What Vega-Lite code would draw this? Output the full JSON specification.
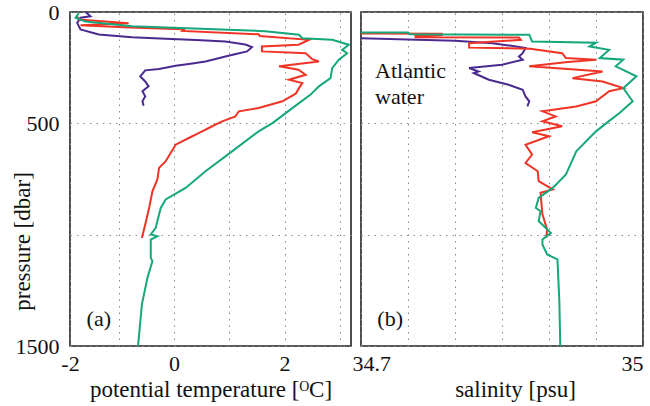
{
  "$schema": "https://vega.github.io/schema/vega-lite/v6.json",
  "background": "white",
  "padding": {"left": 10, "top": 0, "right": 0, "bottom": 0},
  "spacing": 10,
  "bounds": "flush",
  "config": {
    "view": {"stroke": "#222", "strokeWidth": 1.6},
    "font": "Liberation Serif",
    "axis": {
      "labelFont": "Liberation Serif", "titleFont": "Liberation Serif",
      "labelFontSize": 22, "titleFontSize": 23,
      "labelColor": "#111", "titleColor": "#111", "titleFontWeight": "normal",
      "gridColor": "#8a8a8a", "gridDash": [1.5, 5], "gridWidth": 1,
      "domain": false, "ticks": false
    }
  },
  "datasets": {
    "temp": [
      {"i":1,"cast":"p","t":-1.6,"p":0},{"i":2,"cast":"p","t":-1.51,"p":19},{"i":3,"cast":"p","t":-1.69,"p":26},{"i":4,"cast":"p","t":-1.75,"p":49},{"i":5,"cast":"p","t":-1.69,"p":78},{"i":6,"cast":"p","t":-1.36,"p":101},{"i":7,"cast":"p","t":-0.76,"p":113},{"i":8,"cast":"p","t":-0.15,"p":120},{"i":9,"cast":"p","t":0.4,"p":126},{"i":10,"cast":"p","t":0.93,"p":132},{"i":11,"cast":"p","t":1.29,"p":146},{"i":12,"cast":"p","t":1.41,"p":158},{"i":13,"cast":"p","t":1.32,"p":177},{"i":14,"cast":"p","t":1.1,"p":190},{"i":15,"cast":"p","t":0.93,"p":200},{"i":16,"cast":"p","t":0.57,"p":222},{"i":17,"cast":"p","t":0.3,"p":232},{"i":18,"cast":"p","t":0.03,"p":241},{"i":19,"cast":"p","t":-0.27,"p":256},{"i":20,"cast":"p","t":-0.52,"p":262},{"i":21,"cast":"p","t":-0.61,"p":289},{"i":22,"cast":"p","t":-0.52,"p":312},{"i":23,"cast":"p","t":-0.46,"p":334},{"i":24,"cast":"p","t":-0.57,"p":356},{"i":25,"cast":"p","t":-0.52,"p":379},{"i":26,"cast":"p","t":-0.57,"p":400},{"i":27,"cast":"p","t":-0.55,"p":421},
      {"i":1,"cast":"r","t":-1.75,"p":20},{"i":2,"cast":"r","t":-1.72,"p":34},{"i":3,"cast":"r","t":-0.82,"p":50},{"i":4,"cast":"r","t":-1.69,"p":60},{"i":5,"cast":"r","t":-0.8,"p":70},{"i":6,"cast":"r","t":0.18,"p":78},{"i":7,"cast":"r","t":0.15,"p":85},{"i":8,"cast":"r","t":1.53,"p":100},{"i":9,"cast":"r","t":1.55,"p":108},{"i":10,"cast":"r","t":2.44,"p":125},{"i":11,"cast":"r","t":2.25,"p":147},{"i":12,"cast":"r","t":1.59,"p":155},{"i":13,"cast":"r","t":1.59,"p":177},{"i":14,"cast":"r","t":2.38,"p":185},{"i":15,"cast":"r","t":2.5,"p":212},{"i":16,"cast":"r","t":2.62,"p":222},{"i":17,"cast":"r","t":1.9,"p":244},{"i":18,"cast":"r","t":2.25,"p":259},{"i":19,"cast":"r","t":2.38,"p":282},{"i":20,"cast":"r","t":2.08,"p":304},{"i":21,"cast":"r","t":2.32,"p":319},{"i":22,"cast":"r","t":2.26,"p":342},{"i":23,"cast":"r","t":2.2,"p":367},{"i":24,"cast":"r","t":1.96,"p":401},{"i":25,"cast":"r","t":1.53,"p":431},{"i":26,"cast":"r","t":1.17,"p":446},{"i":27,"cast":"r","t":1.11,"p":469},{"i":28,"cast":"r","t":0.87,"p":491},{"i":29,"cast":"r","t":0.69,"p":513},{"i":30,"cast":"r","t":0.51,"p":536},{"i":31,"cast":"r","t":0.39,"p":551},{"i":32,"cast":"r","t":0.33,"p":558},{"i":33,"cast":"r","t":0.03,"p":596},{"i":34,"cast":"r","t":-0.15,"p":670},{"i":35,"cast":"r","t":-0.27,"p":700},{"i":36,"cast":"r","t":-0.3,"p":752},{"i":37,"cast":"r","t":-0.39,"p":805},{"i":38,"cast":"r","t":-0.45,"p":880},{"i":39,"cast":"r","t":-0.52,"p":954},{"i":40,"cast":"r","t":-0.58,"p":1015},
      {"i":1,"cast":"g","t":-1.72,"p":5},{"i":2,"cast":"g","t":-1.78,"p":26},{"i":3,"cast":"g","t":-1.6,"p":43},{"i":4,"cast":"g","t":-0.76,"p":64},{"i":5,"cast":"g","t":1.65,"p":86},{"i":6,"cast":"g","t":2.26,"p":102},{"i":7,"cast":"g","t":2.32,"p":118},{"i":8,"cast":"g","t":2.86,"p":125},{"i":9,"cast":"g","t":3.16,"p":147},{"i":10,"cast":"g","t":3.04,"p":170},{"i":11,"cast":"g","t":3.13,"p":185},{"i":12,"cast":"g","t":2.98,"p":214},{"i":13,"cast":"g","t":2.86,"p":252},{"i":14,"cast":"g","t":2.83,"p":297},{"i":15,"cast":"g","t":2.62,"p":334},{"i":16,"cast":"g","t":2.47,"p":371},{"i":17,"cast":"g","t":2.26,"p":409},{"i":18,"cast":"g","t":2.02,"p":454},{"i":19,"cast":"g","t":1.78,"p":499},{"i":20,"cast":"g","t":1.53,"p":536},{"i":21,"cast":"g","t":1.05,"p":626},{"i":22,"cast":"g","t":0.57,"p":715},{"i":23,"cast":"g","t":0.21,"p":790},{"i":24,"cast":"g","t":-0.15,"p":842},{"i":25,"cast":"g","t":-0.24,"p":880},{"i":26,"cast":"g","t":-0.3,"p":939},{"i":27,"cast":"g","t":-0.33,"p":969},{"i":28,"cast":"g","t":-0.42,"p":999},{"i":29,"cast":"g","t":-0.3,"p":1007},{"i":30,"cast":"g","t":-0.42,"p":1022},{"i":31,"cast":"g","t":-0.42,"p":1104},{"i":32,"cast":"g","t":-0.39,"p":1119},{"i":33,"cast":"g","t":-0.48,"p":1194},{"i":34,"cast":"g","t":-0.58,"p":1313},{"i":35,"cast":"g","t":-0.65,"p":1500}
    ],
    "sal": [
      {"i":1,"cast":"p","s":34.70,"p":118},{"i":2,"cast":"p","s":34.80,"p":129},{"i":3,"cast":"p","s":34.84,"p":140},{"i":4,"cast":"p","s":34.865,"p":155},{"i":5,"cast":"p","s":34.875,"p":162},{"i":6,"cast":"p","s":34.872,"p":185},{"i":7,"cast":"p","s":34.868,"p":200},{"i":8,"cast":"p","s":34.872,"p":214},{"i":9,"cast":"p","s":34.85,"p":237},{"i":10,"cast":"p","s":34.815,"p":252},{"i":11,"cast":"p","s":34.825,"p":267},{"i":12,"cast":"p","s":34.82,"p":274},{"i":13,"cast":"p","s":34.836,"p":304},{"i":14,"cast":"p","s":34.857,"p":327},{"i":15,"cast":"p","s":34.872,"p":349},{"i":16,"cast":"p","s":34.875,"p":379},{"i":17,"cast":"p","s":34.879,"p":401},{"i":18,"cast":"p","s":34.877,"p":424},
      {"i":1,"cast":"r","s":34.70,"p":97},{"i":2,"cast":"r","s":34.786,"p":98},{"i":3,"cast":"r","s":34.786,"p":104},{"i":4,"cast":"r","s":34.758,"p":108},{"i":5,"cast":"r","s":34.758,"p":113},{"i":6,"cast":"r","s":34.868,"p":115},{"i":7,"cast":"r","s":34.87,"p":125},{"i":8,"cast":"r","s":34.815,"p":140},{"i":9,"cast":"r","s":34.815,"p":160},{"i":10,"cast":"r","s":34.88,"p":165},{"i":11,"cast":"r","s":34.914,"p":185},{"i":12,"cast":"r","s":34.918,"p":207},{"i":13,"cast":"r","s":34.95,"p":214},{"i":14,"cast":"r","s":34.92,"p":225},{"i":15,"cast":"r","s":34.879,"p":244},{"i":16,"cast":"r","s":34.957,"p":267},{"i":17,"cast":"r","s":34.925,"p":297},{"i":18,"cast":"r","s":34.957,"p":312},{"i":19,"cast":"r","s":34.979,"p":342},{"i":20,"cast":"r","s":34.964,"p":356},{"i":21,"cast":"r","s":34.95,"p":401},{"i":22,"cast":"r","s":34.929,"p":424},{"i":23,"cast":"r","s":34.893,"p":446},{"i":24,"cast":"r","s":34.907,"p":469},{"i":25,"cast":"r","s":34.893,"p":491},{"i":26,"cast":"r","s":34.914,"p":513},{"i":27,"cast":"r","s":34.882,"p":540},{"i":28,"cast":"r","s":34.9,"p":558},{"i":29,"cast":"r","s":34.875,"p":596},{"i":30,"cast":"r","s":34.882,"p":640},{"i":31,"cast":"r","s":34.875,"p":678},{"i":32,"cast":"r","s":34.888,"p":715},{"i":33,"cast":"r","s":34.889,"p":760},{"i":34,"cast":"r","s":34.904,"p":797},{"i":35,"cast":"r","s":34.891,"p":812},{"i":36,"cast":"r","s":34.893,"p":909},{"i":37,"cast":"r","s":34.898,"p":977},{"i":38,"cast":"r","s":34.897,"p":1014},
      {"i":1,"cast":"g","s":34.70,"p":92},{"i":2,"cast":"g","s":34.75,"p":92},{"i":3,"cast":"g","s":34.752,"p":100},{"i":4,"cast":"g","s":34.879,"p":102},{"i":5,"cast":"g","s":34.882,"p":132},{"i":6,"cast":"g","s":34.95,"p":138},{"i":7,"cast":"g","s":34.943,"p":155},{"i":8,"cast":"g","s":34.964,"p":170},{"i":9,"cast":"g","s":34.954,"p":207},{"i":10,"cast":"g","s":34.979,"p":214},{"i":11,"cast":"g","s":34.971,"p":244},{"i":12,"cast":"g","s":34.993,"p":289},{"i":13,"cast":"g","s":34.979,"p":342},{"i":14,"cast":"g","s":34.989,"p":401},{"i":15,"cast":"g","s":34.975,"p":454},{"i":16,"cast":"g","s":34.961,"p":499},{"i":17,"cast":"g","s":34.95,"p":536},{"i":18,"cast":"g","s":34.929,"p":626},{"i":19,"cast":"g","s":34.918,"p":730},{"i":20,"cast":"g","s":34.904,"p":790},{"i":21,"cast":"g","s":34.889,"p":835},{"i":22,"cast":"g","s":34.886,"p":880},{"i":23,"cast":"g","s":34.891,"p":895},{"i":24,"cast":"g","s":34.889,"p":939},{"i":25,"cast":"g","s":34.9,"p":984},{"i":26,"cast":"g","s":34.902,"p":992},{"i":27,"cast":"g","s":34.893,"p":1022},{"i":28,"cast":"g","s":34.893,"p":1044},{"i":29,"cast":"g","s":34.898,"p":1089},{"i":30,"cast":"g","s":34.909,"p":1111},{"i":31,"cast":"g","s":34.911,"p":1298},{"i":32,"cast":"g","s":34.912,"p":1500}
    ]
  },
  "resolve": {"scale": {"x": "independent", "y": "independent", "color": "shared"}},
  "hconcat": [
    {
      "width": 281, "height": 334,
      "layer": [
        {
          "data": {"name": "temp"},
          "mark": {"type": "line", "strokeWidth": 2, "clip": true},
          "encoding": {
            "x": {"field": "t", "type": "quantitative",
              "scale": {"domain": [-1.88, 3.2], "nice": false, "zero": false},
              "axis": {"values": [-1.88, -1, 0, 1, 2, 3], "labelFlush": false,
                "labelExpr": "datum.value < -1.5 ? '-2' : (datum.value == 0 ? '0' : (datum.value == 2 ? '2' : ''))",
                "title": "potential temperature [ᴼC]", "labelPadding": 7, "titlePadding": 4}},
            "y": {"field": "p", "type": "quantitative",
              "scale": {"domain": [0, 1500], "reverse": true, "nice": false, "zero": false},
              "axis": {"values": [0, 500, 1000, 1500],
                "labelExpr": "datum.value == 0 ? '0' : (datum.value == 500 ? '500' : (datum.value == 1500 ? '1500' : ''))",
                "title": "pressure [dbar]", "labelPadding": 11,
                "titleX": -48, "titleY": 229, "titleBaseline": "middle"}},
            "color": {"field": "cast", "type": "nominal",
              "scale": {"domain": ["p", "r", "g"], "range": ["#4b2a8f", "#ef3426", "#16a77c"]},
              "legend": null},
            "order": {"field": "i", "type": "quantitative"}
          }
        },
        {
          "data": {"values": [{"t": -1.36, "p": 1379, "txt": "(a)"}]},
          "mark": {"type": "text", "font": "Liberation Serif", "fontSize": 22, "color": "#111", "align": "center", "baseline": "middle"},
          "encoding": {
            "x": {"field": "t", "type": "quantitative"},
            "y": {"field": "p", "type": "quantitative"},
            "text": {"field": "txt"}
          }
        }
      ]
    },
    {
      "width": 282, "height": 334,
      "layer": [
        {
          "data": {"name": "sal"},
          "mark": {"type": "line", "strokeWidth": 2, "clip": true},
          "encoding": {
            "x": {"field": "s", "type": "quantitative",
              "scale": {"domain": [34.7, 35], "nice": false, "zero": false},
              "axis": {"values": [34.7, 34.75, 34.8, 34.85, 34.9, 34.95, 35],
                "labelExpr": "datum.value < 34.72 ? '34.7' : (datum.value > 34.98 ? '35' : '')",
                "labelFlush": true,
                "labelOffset": {"condition": {"test": "datum.value < 34.72", "value": -9}, "value": 0},
                "title": "salinity [psu]", "labelPadding": 7, "titlePadding": 4, "titleX": 154}},
            "y": {"field": "p", "type": "quantitative",
              "scale": {"domain": [0, 1500], "reverse": true, "nice": false, "zero": false},
              "axis": {"values": [0, 500, 1000, 1500], "labels": false, "title": null, "minExtent": 0, "maxExtent": 0, "labelPadding": 0}},
            "color": {"field": "cast", "type": "nominal", "legend": null},
            "order": {"field": "i", "type": "quantitative"}
          }
        },
        {
          "data": {"values": [{"s": 34.731, "p": 1379, "txt": "(b)"}]},
          "mark": {"type": "text", "font": "Liberation Serif", "fontSize": 22, "color": "#111", "align": "center", "baseline": "middle"},
          "encoding": {
            "x": {"field": "s", "type": "quantitative"},
            "y": {"field": "p", "type": "quantitative"},
            "text": {"field": "txt"}
          }
        },
        {
          "data": {"values": [
            {"s": 34.715, "p": 267, "txt": "Atlantic"},
            {"s": 34.715, "p": 383, "txt": "water"}
          ]},
          "mark": {"type": "text", "font": "Liberation Serif", "fontSize": 22, "color": "#111", "align": "left", "baseline": "middle"},
          "encoding": {
            "x": {"field": "s", "type": "quantitative"},
            "y": {"field": "p", "type": "quantitative"},
            "text": {"field": "txt"}
          }
        }
      ]
    }
  ]
}
